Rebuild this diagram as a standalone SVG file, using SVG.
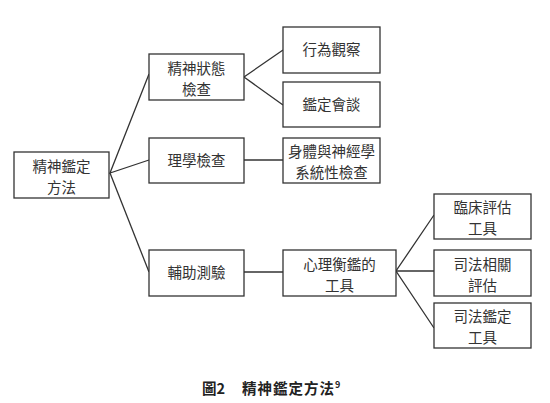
<svg xmlns="http://www.w3.org/2000/svg" width="550" height="403" viewBox="0 0 550 403">
<style>
.box{fill:#fff;stroke:#333;stroke-width:1.3}
.t{font-family:"Noto Sans CJK TC","Noto Sans CJK SC",sans-serif;font-size:14.5px;fill:#333;text-anchor:middle}
.ln{stroke:#333;stroke-width:1.3;fill:none}
.cap{font-family:"Noto Sans CJK TC","Noto Sans CJK SC",sans-serif;font-size:14.5px;fill:#222;font-weight:bold}
</style>
<rect width="550" height="403" fill="#fff"/>
<g id="connectors">
<polyline class="ln" points="149,74 110,173 149,160"/>
<polyline class="ln" points="110,173 149,272"/>
<polyline class="ln" points="283,50 244,77 283,105"/>
<line class="ln" x1="244" y1="160" x2="283" y2="160"/>
<line class="ln" x1="244" y1="272" x2="283" y2="272"/>
<polyline class="ln" points="434,215 396,271 434,328"/>
<line class="ln" x1="396" y1="271" x2="436" y2="271"/>
</g>
<g id="root"><rect class="box" x="14" y="152" width="95" height="46"/>
<text class="t" x="61.5" y="171.5">精神鑑定</text><text class="t" x="61.5" y="192.5">方法</text></g>
<g id="mental"><rect class="box" x="149" y="54" width="95" height="46"/>
<text class="t" x="196.5" y="73.5">精神狀態</text><text class="t" x="196.5" y="94.5">檢查</text></g>
<g id="physical"><rect class="box" x="149" y="138" width="95" height="45"/>
<text class="t" x="196.5" y="165.5">理學檢查</text></g>
<g id="aux"><rect class="box" x="149" y="250" width="95" height="46"/>
<text class="t" x="196.5" y="278">輔助測驗</text></g>
<g id="behavior"><rect class="box" x="283" y="27" width="97" height="46"/>
<text class="t" x="331.5" y="55">行為觀察</text></g>
<g id="interview"><rect class="box" x="283" y="82" width="97" height="45"/>
<text class="t" x="331.5" y="109.5">鑑定會談</text></g>
<g id="neuro"><rect class="box" x="283" y="138" width="97" height="45"/>
<text class="t" x="331.5" y="156.5">身體與神經學</text><text class="t" x="331.5" y="177.5">系統性檢查</text></g>
<g id="psychtools"><rect class="box" x="283" y="250" width="113" height="46"/>
<text class="t" x="339.5" y="269.5">心理衡鑑的</text><text class="t" x="339.5" y="290.5">工具</text></g>
<g id="clinical"><rect class="box" x="434" y="194" width="97" height="45"/>
<text class="t" x="482.5" y="212.5">臨床評估</text><text class="t" x="482.5" y="233.5">工具</text></g>
<g id="forensic-related"><rect class="box" x="434" y="250" width="97" height="46"/>
<text class="t" x="482.5" y="269.5">司法相關</text><text class="t" x="482.5" y="290.5">評估</text></g>
<g id="forensic-tools"><rect class="box" x="434" y="303" width="97" height="45"/>
<text class="t" x="482.5" y="321.5">司法鑑定</text><text class="t" x="482.5" y="342.5">工具</text></g>
<text class="cap" x="202" y="394">圖2</text>
<text class="cap" x="242" y="394" style="letter-spacing:1px">精神鑑定方法<tspan font-size="9" dy="-6" font-weight="bold">9</tspan></text>
</svg>
